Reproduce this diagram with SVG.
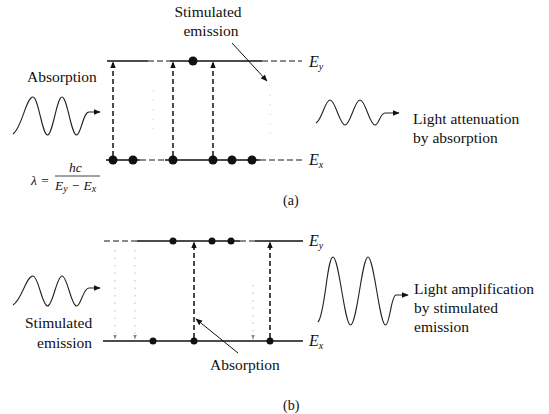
<svg xmlns="http://www.w3.org/2000/svg" width="549" height="414" viewBox="0 0 549 414">
<defs>
<marker id="ah" viewBox="0 0 10 10" refX="9" refY="5" markerWidth="7" markerHeight="7" markerUnits="userSpaceOnUse" orient="auto">
<path d="M0,1 L10,5 L0,9 Z" fill="#111"/>
</marker>
<marker id="ahs" viewBox="0 0 10 10" refX="9" refY="5" markerWidth="5" markerHeight="5" markerUnits="userSpaceOnUse" orient="auto">
<path d="M0,1 L10,5 L0,9 Z" fill="#888"/>
</marker>
</defs>
<style>
.lvl{stroke:#111;stroke-width:1.6;fill:none}
.lvlf{stroke:#666;stroke-width:1.3;fill:none;stroke-dasharray:6 3}
.dot{fill:#111}
.up{stroke:#111;stroke-width:1.5;fill:none;stroke-dasharray:5 3;marker-end:url(#ah)}
.faint{stroke:#bbb;stroke-width:1;fill:none;stroke-dasharray:1.5 6;marker-end:url(#ahs)}
.faint2{stroke:#d8d8d8;stroke-width:1;fill:none;stroke-dasharray:1.5 8}
.ptr{stroke:#111;stroke-width:1;fill:none;marker-end:url(#ah)}
.wave{stroke:#222;stroke-width:1.1;fill:none;marker-end:url(#ah)}
.t{font-family:"Liberation Serif","Times New Roman",serif;font-size:15.5px;fill:#111}
.e{font-family:"Liberation Serif","Times New Roman",serif;font-size:16px;font-style:italic;fill:#111}
.sub{font-size:10px}
.f{font-family:"Liberation Serif","Times New Roman",serif;font-size:13.5px;font-style:italic;fill:#111}
.cap{font-family:"Liberation Serif","Times New Roman",serif;font-size:14px;fill:#111}
</style>

<!-- Part (a) -->
<g id="a-upper-level">
<path class="lvl" d="M107,61 H148 M170,61 H262"/>
<path class="lvlf" d="M148,61 H170 M262,61 H302"/>
<circle class="dot" cx="193" cy="61" r="4.5"/>
<text class="e" x="309" y="67">E<tspan class="sub" dy="3">y</tspan></text>
</g>
<g id="a-lower-level">
<path class="lvl" d="M106,160 H140 M165,160 H260"/>
<path class="lvlf" d="M140,160 H165 M260,160 H302"/>
<circle class="dot" cx="113" cy="160" r="4.5"/>
<circle class="dot" cx="133" cy="160" r="4.5"/>
<circle class="dot" cx="173" cy="160" r="4.5"/>
<circle class="dot" cx="213" cy="160" r="4.5"/>
<circle class="dot" cx="232" cy="160" r="4.5"/>
<circle class="dot" cx="252" cy="160" r="4.5"/>
<text class="e" x="309" y="165">E<tspan class="sub" dy="3">x</tspan></text>
</g>
<g id="a-incoming-wave">
<path class="wave" d="M13,134 C22,128 26,97 33,97 C38.3,97 42.2,135 47.5,135 C52.8,135 56.7,97 62,97 C67.3,97 71.2,135 76.5,135 C81,135 83,112 89,112 L100,112"/>
<text class="t" x="27" y="82">Absorption</text>
</g>
<g id="a-formula">
<text class="f" x="31" y="185" font-style="normal">λ =</text>
<text class="f" x="69" y="172">hc</text>
<line x1="55" y1="176" x2="100" y2="176" stroke="#111" stroke-width="0.8"/>
<text class="f" x="55" y="190">E<tspan class="sub" dy="2">y</tspan><tspan dy="-2"> − E</tspan><tspan class="sub" dy="2">x</tspan></text>
</g>
<g id="a-stimulated-label">
<text class="t" x="208" y="17" text-anchor="middle">Stimulated</text>
<text class="t" x="211" y="36" text-anchor="middle">emission</text>
</g>
<g id="a-outgoing-wave">
<path class="wave" d="M316,123 C322,120 325,100 330,100 C335.5,100 339.5,125 345,125 C350.5,125 354.5,100 360,100 C365.5,100 369.5,125 375,125 C379,125 380,113 385,113 L399,113"/>
<text class="t" x="413" y="124">Light attenuation</text>
<text class="t" x="413" y="143">by absorption</text>
</g>
<text class="cap" x="283" y="205">(a)</text>

<!-- Part (b) -->
<g id="b-upper-level">
<path class="lvl" d="M137,241 H240 M255,241 H303"/>
<path class="lvlf" d="M104,241 H137 M240,241 H255"/>
<circle class="dot" cx="173" cy="241" r="3.5"/>
<circle class="dot" cx="212" cy="241" r="3.5"/>
<circle class="dot" cx="231" cy="241" r="3.5"/>
<text class="e" x="309" y="246">E<tspan class="sub" dy="3">y</tspan></text>
</g>
<g id="b-lower-level">
<path class="lvl" d="M103,341 H303"/>
<circle class="dot" cx="153" cy="341" r="3.5"/>
<circle class="dot" cx="194" cy="341" r="3.5"/>
<circle class="dot" cx="270" cy="341" r="3.5"/>
<text class="e" x="309" y="346">E<tspan class="sub" dy="3">x</tspan></text>
</g>
<g id="b-incoming-wave">
<path class="wave" d="M13,305 C22,300 26,276 33,276 C38.3,276 42.2,306 47.5,306 C52.8,306 56.7,276 62,276 C67.3,276 71.2,306 76.5,306 C81,306 83,288 89,288 L100,288"/>
<text class="t" x="25" y="328">Stimulated</text>
<text class="t" x="37" y="348">emission</text>
</g>
<g id="b-absorption-label">
<text class="t" x="210" y="370">Absorption</text>
</g>
<g id="b-outgoing-wave">
<path class="wave" d="M318,322 C325,315 327,257 333,257 C339,257 344.5,325 350.5,325 C357,325 362,257 368,257 C374,257 379.5,325 385.5,325 C390,325 391,295 396,295 L408,295"/>
<text class="t" x="414" y="294">Light amplification</text>
<text class="t" x="414" y="313">by stimulated</text>
<text class="t" x="414" y="332">emission</text>
</g>
<text class="cap" x="283" y="410">(b)</text>

<g id="connectors">
<!-- (a) absorption transitions -->
<line class="up" x1="113" y1="156" x2="113" y2="62"/>
<line class="up" x1="173" y1="156" x2="173" y2="62"/>
<line class="up" x1="213" y1="156" x2="213" y2="62"/>
<line class="faint2" x1="153" y1="90" x2="153" y2="132"/>
<line class="faint2" x1="270" y1="85" x2="270" y2="135"/>
<line class="ptr" x1="232" y1="43" x2="267" y2="81"/>
<!-- (b) transitions -->
<line class="up" x1="194" y1="338" x2="194" y2="242"/>
<line class="up" x1="270" y1="338" x2="270" y2="242"/>
<line class="faint" x1="115" y1="250" x2="115" y2="339"/>
<line class="faint" x1="135" y1="250" x2="135" y2="339"/>
<line class="faint" x1="253" y1="285" x2="253" y2="339"/>
<line class="ptr" x1="238" y1="353" x2="196" y2="319"/>
</g>
</svg>
